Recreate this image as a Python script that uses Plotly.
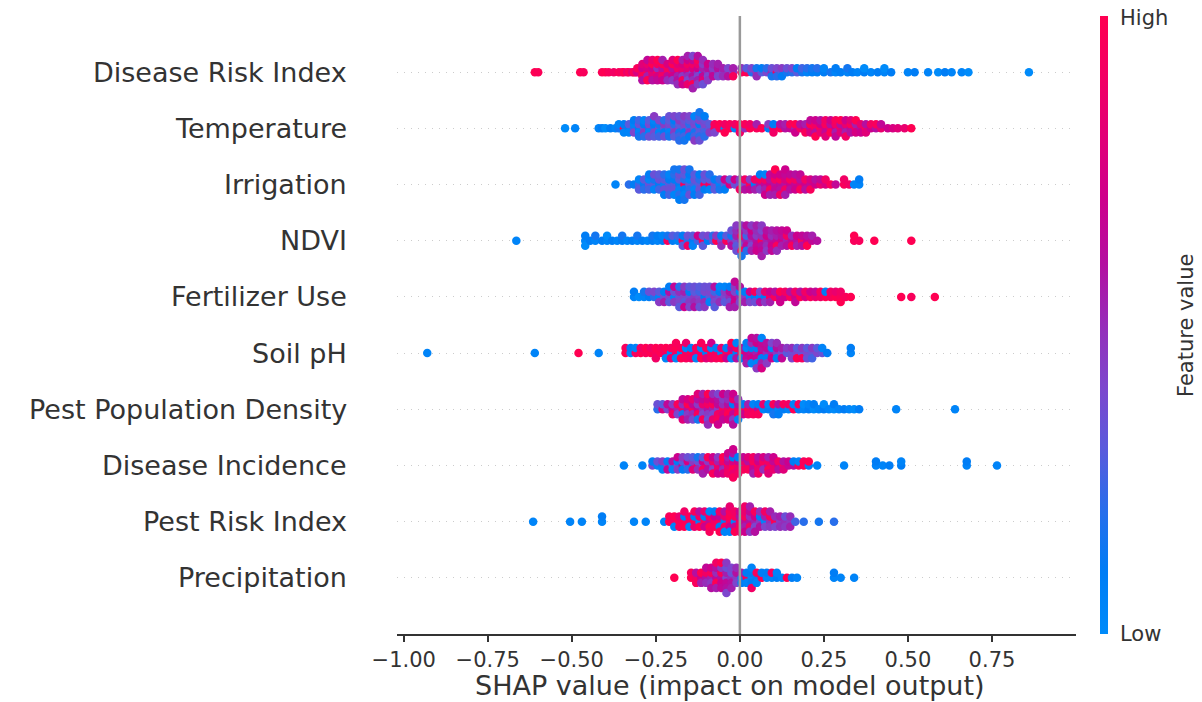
import numpy as np
import plotly.graph_objects as go

features = ["Disease Risk Index", "Temperature", "Irrigation", "NDVI", "Fertilizer Use",
            "Soil pH", "Pest Population Density", "Disease Incidence", "Pest Risk Index", "Precipitation"]

x_ticks = [-1.0, -0.75, -0.5, -0.25, 0.0, 0.25, 0.5, 0.75]

# (SHAP value, [normalised feature values of the samples at that SHAP value])
disease_risk_index = [
    (-0.61, [1.0]), (-0.60, [0.97]), (-0.475, [1.0]), (-0.465, [0.95]),
    (-0.41, [0.98]), (-0.40, [1.0]), (-0.39, [0.95]), (-0.375, [0.9]),
    (-0.36, [0.95]), (-0.35, [0.9]), (-0.345, [1.0]), (-0.335, [0.85]), (-0.33, [0.95]),
    (-0.32, [0.8]), (-0.315, [1.0]), (-0.31, [0.9]), (-0.305, [0.75, 0.95]),
    (-0.29, [0.9, 0.7, 1.0, 0.8, 0.6]),
    (-0.275, [0.95, 0.75, 0.55, 0.85, 1.0, 0.65]),
    (-0.26, [0.9, 0.7, 0.8, 1.0, 0.6, 0.85]),
    (-0.245, [0.95, 0.5, 0.75, 0.9, 0.65, 1.0]),
    (-0.23, [0.8, 0.6, 0.9, 1.0, 0.7, 0.55]),
    (-0.215, [0.85, 0.95, 0.65, 0.75, 0.5]),
    (-0.20, [0.9, 0.6, 0.7, 1.0, 0.45, 0.8]),
    (-0.185, [0.7, 0.9, 0.55, 0.8, 0.6, 1.0, 0.5]),
    (-0.17, [0.65, 0.85, 0.45, 0.75, 0.95, 0.55, 0.7]),
    (-0.155, [0.6, 0.8, 0.5, 0.9, 0.4, 0.7, 0.85, 0.55]),
    (-0.14, [0.45, 0.75, 0.6, 0.9, 0.5, 0.65, 1.0, 0.4, 0.55]),
    (-0.125, [0.5, 0.7, 0.4, 0.85, 0.55, 0.95, 0.45, 0.6]),
    (-0.11, [0.2, 0.55, 0.65, 0.45, 0.8, 0.5, 0.35]),
    (-0.095, [0.5, 0.6, 0.4, 0.7, 0.45]),
    (-0.08, [0.55, 0.45, 0.65, 0.5]), (-0.065, [0.5, 0.6, 0.4, 0.55]),
    (-0.05, [0.45, 0.55, 0.5]), (-0.035, [0.5, 0.4, 0.6]), (-0.02, [0.45, 0.55, 0.95]),
    (0.005, [0.95, 0.5]), (0.02, [1.0, 0.3]), (0.035, [0.2, 0.4]), (0.05, [0.45, 0.15, 0.5]),
    (0.065, [0.3, 0.1]), (0.08, [0.4, 0.2]), (0.095, [0.5, 0.35, 0.15]), (0.11, [0.95, 0.4, 0.2]),
    (0.125, [0.3, 0.45, 0.1]), (0.14, [0.15, 0.35]), (0.155, [0.2, 0.4]), (0.17, [0.3, 0.1]),
    (0.185, [0.15, 0.25]), (0.20, [0.05, 0.2]), (0.215, [0.1, 0.15]), (0.23, [0.1, 0.2]),
    (0.25, [0.1, 0.05]), (0.27, [0.15]), (0.285, [0.05, 0.1]), (0.30, [0.1]), (0.32, [0.05, 0.15]),
    (0.335, [0.1]), (0.35, [0.05]), (0.37, [0.1, 0.0]), (0.39, [0.05]), (0.41, [0.1]),
    (0.43, [0.05, 0.0]), (0.45, [0.1]), (0.50, [0.05]), (0.52, [0.1]), (0.56, [0.05]),
    (0.59, [0.0]), (0.61, [0.1]), (0.63, [0.05]), (0.66, [0.05]), (0.68, [0.0]), (0.86, [0.0]),
]

temperature = [
    (-0.52, [0.0]), (-0.49, [0.05]), (-0.42, [0.05]), (-0.41, [0.1]), (-0.40, [0.0]),
    (-0.385, [0.1]), (-0.37, [0.05]), (-0.36, [0.15, 0.05]),
    (-0.345, [0.95, 0.1, 0.05]), (-0.33, [0.1, 0.3, 0.05]), (-0.315, [0.2, 0.05, 0.4, 0.1]),
    (-0.30, [0.1, 0.35, 0.05, 0.25, 0.15]), (-0.285, [0.3, 0.1, 0.45, 0.05, 0.2]),
    (-0.27, [0.15, 0.4, 0.05, 0.3, 0.35]), (-0.255, [0.2, 0.1, 0.4, 0.05, 0.3, 0.45]),
    (-0.24, [0.35, 0.15, 0.05, 0.4, 0.25]), (-0.225, [0.3, 0.45, 0.1, 0.2, 0.35]),
    (-0.21, [0.25, 0.4, 0.05, 0.3, 0.15, 0.35]), (-0.195, [0.35, 0.2, 0.45, 0.1, 0.3, 0.4]),
    (-0.18, [0.4, 0.3, 0.15, 0.45, 0.25, 0.35, 0.2]), (-0.165, [0.3, 0.4, 0.1, 0.35, 0.25, 0.45, 0.15]),
    (-0.15, [0.35, 0.2, 0.45, 0.3, 0.1, 0.4]), (-0.135, [0.3, 0.4, 0.15, 0.35, 0.25, 0.05, 0.45]),
    (-0.12, [0.35, 0.1, 0.3, 0.4, 0.2, 0.25, 0.35, 0.15]), (-0.105, [0.3, 0.4, 0.25, 0.35, 0.2, 0.1]),
    (-0.09, [0.35, 0.3, 0.45]), (-0.075, [1.0, 0.95, 0.4]), (-0.06, [0.95, 1.0]),
    (-0.045, [0.05, 0.9, 1.0]), (-0.03, [1.0, 0.95]), (-0.015, [0.05, 0.9]), (0.0, [0.95, 1.0, 0.9]),
    (0.015, [0.5, 0.95]), (0.03, [1.0, 0.9]), (0.05, [0.95, 0.55]), (0.065, [1.0]),
    (0.085, [0.1, 0.45]), (0.10, [0.95, 0.1, 0.9]), (0.12, [1.0, 0.6]), (0.135, [0.6, 0.55]),
    (0.15, [0.65, 0.95]), (0.165, [0.55, 1.0, 0.7]), (0.18, [0.9, 0.6]), (0.195, [0.7, 0.55, 0.95]),
    (0.21, [0.6, 1.0, 0.75, 0.65]), (0.225, [0.95, 0.9, 0.6, 0.7, 1.0]), (0.24, [1.0, 0.7, 0.85, 0.6]),
    (0.255, [0.75, 0.95, 0.65, 0.9, 0.8]), (0.27, [0.85, 0.6, 1.0, 0.7]),
    (0.285, [0.7, 0.9, 0.55, 0.95, 0.65]), (0.30, [0.9, 0.6, 0.8, 1.0]),
    (0.315, [0.6, 0.85, 0.55, 0.7, 0.9]), (0.33, [0.65, 0.95, 0.6, 0.8]), (0.345, [0.9, 0.55, 0.75, 1.0]),
    (0.36, [0.6, 0.85, 0.7]), (0.375, [0.95, 0.6, 0.8]), (0.39, [0.7, 0.9]), (0.405, [0.6, 0.95]),
    (0.42, [0.85, 0.65]), (0.44, [0.7]), (0.455, [0.75]), (0.47, [0.8]), (0.49, [0.85]), (0.51, [1.0]),
]

irrigation = [
    (-0.37, [0.05]), (-0.33, [0.2]), (-0.315, [0.1]), (-0.30, [0.25, 0.05, 0.3]),
    (-0.285, [0.1, 0.3, 0.2]), (-0.27, [0.35, 0.05, 0.25, 0.1]), (-0.255, [0.3, 0.15, 0.05, 0.35]),
    (-0.24, [0.1, 0.35, 0.25, 0.3]), (-0.225, [0.05, 0.3, 0.35, 0.2, 0.1]),
    (-0.21, [0.3, 0.1, 0.35, 0.05, 0.25]), (-0.195, [0.3, 0.1, 0.35, 0.2, 0.05, 0.15]),
    (-0.18, [0.1, 0.3, 0.05, 0.35, 0.2, 0.15, 0.1]), (-0.165, [0.95, 0.2, 0.1, 0.3, 0.05, 0.35, 0.15]),
    (-0.15, [0.3, 0.05, 0.2, 0.1, 0.35, 0.15]), (-0.135, [0.25, 0.35, 0.05, 0.3, 0.1]),
    (-0.12, [0.3, 0.2, 0.35, 0.1, 0.25]), (-0.105, [0.95, 0.3, 0.1, 0.35]), (-0.09, [0.9, 0.3, 0.05, 0.2]),
    (-0.075, [0.35, 0.1, 0.3]), (-0.06, [0.05, 0.25, 0.15]), (-0.045, [0.3, 0.7, 0.1]),
    (-0.03, [0.75, 0.3]), (-0.015, [0.35, 0.7]), (0.0, [0.35, 0.45, 0.9]), (0.015, [0.4, 0.9, 0.6]),
    (0.03, [0.95, 0.45, 0.65]), (0.045, [0.1, 0.9, 0.55]), (0.06, [0.6, 0.95, 0.45, 0.1]),
    (0.075, [0.65, 0.9, 0.55, 0.05, 0.7]), (0.09, [0.7, 0.6, 0.95, 0.65, 0.55]),
    (0.105, [0.6, 0.9, 0.65, 0.7, 0.55, 1.0]), (0.12, [0.65, 0.95, 0.6, 0.7, 0.9]),
    (0.135, [0.6, 0.75, 0.9, 0.65, 0.55, 0.7]), (0.15, [0.7, 0.95, 0.6, 0.65]),
    (0.165, [0.65, 0.9, 0.7, 0.6]), (0.18, [0.75, 0.6, 0.95, 0.65]), (0.195, [0.7, 0.9, 0.6]),
    (0.21, [0.65, 0.75, 0.95]), (0.225, [0.7, 0.6]), (0.24, [0.85, 0.65]), (0.255, [0.75, 0.9]),
    (0.27, [0.95]), (0.285, [0.65]), (0.31, [0.95, 0.9]), (0.325, [0.9]), (0.34, [0.05]),
    (0.355, [0.05, 0.1]),
]

ndvi = [
    (-0.665, [0.05]), (-0.46, [0.05, 0.1, 0.0]), (-0.445, [0.1]), (-0.43, [0.05, 0.15]),
    (-0.41, [0.1]), (-0.395, [0.05, 0.0]), (-0.38, [0.1]), (-0.365, [0.05]), (-0.35, [0.1, 0.15]),
    (-0.335, [0.05]), (-0.32, [0.1]), (-0.305, [0.05, 0.15]), (-0.29, [0.1]), (-0.275, [0.05]),
    (-0.26, [0.1, 0.15]), (-0.245, [0.05, 0.1]), (-0.23, [0.1, 0.05]), (-0.215, [0.95, 0.15]),
    (-0.20, [0.1, 0.3]), (-0.185, [0.05, 0.25]), (-0.17, [0.95, 0.1, 0.3]), (-0.155, [0.2, 0.35, 0.9]),
    (-0.14, [0.1, 0.3, 0.05]), (-0.125, [0.25, 0.7]), (-0.11, [0.95, 0.35, 0.3]), (-0.095, [0.1, 0.4]),
    (-0.08, [0.3, 0.2]), (-0.07, [1.0, 0.45]), (-0.055, [0.4, 0.1, 0.5]), (-0.04, [0.95, 0.3]),
    (-0.025, [0.45, 0.15, 0.6, 0.35]), (-0.01, [0.4, 0.55, 0.3, 0.5, 0.35, 0.45]),
    (0.005, [0.5, 0.9, 0.35, 0.6, 1.0, 0.45, 0.15]), (0.02, [0.55, 0.25, 0.65, 0.45, 0.2, 0.6]),
    (0.035, [0.5, 0.6, 0.4, 0.7, 0.55, 0.45]), (0.05, [0.6, 0.45, 0.65, 0.5, 0.7, 0.55]),
    (0.065, [0.95, 0.5, 0.6, 0.4, 0.65, 0.45, 0.55]), (0.08, [0.55, 0.7, 0.5, 0.6, 0.45]),
    (0.095, [0.6, 0.5, 0.7, 0.55, 0.65]), (0.11, [0.65, 0.55, 0.95, 0.6, 0.5]),
    (0.125, [0.7, 0.6, 0.55, 0.65]), (0.14, [0.55, 0.9, 0.6, 0.7]), (0.155, [0.65, 0.5, 0.95]),
    (0.17, [0.6, 0.7, 0.55]), (0.185, [0.95, 0.65, 0.6]), (0.20, [0.7, 0.6, 1.0]),
    (0.215, [0.65, 0.55]), (0.23, [0.6]), (0.34, [0.95, 1.0]), (0.355, [0.95]), (0.40, [1.0]),
    (0.51, [1.0]),
]

fertilizer_use = [
    (-0.315, [0.05, 0.1]), (-0.30, [0.0]), (-0.285, [0.05, 0.15]), (-0.27, [0.1, 0.35]),
    (-0.255, [0.2, 0.4]), (-0.24, [0.05, 0.3, 0.45]), (-0.225, [0.35, 0.1, 0.55]),
    (-0.21, [0.4, 0.6, 0.3, 0.1]), (-0.195, [0.05, 0.35, 0.45, 0.65]), (-0.18, [0.35, 0.5, 0.4, 0.2, 0.3]),
    (-0.165, [0.4, 0.55, 0.3, 0.45, 0.7]), (-0.15, [0.35, 0.1, 0.45, 0.3, 0.4]),
    (-0.135, [0.45, 0.3, 0.5, 0.35, 0.6]), (-0.12, [0.4, 0.25, 0.45, 0.3, 0.35]),
    (-0.105, [0.1, 0.4, 0.5, 0.35, 0.45]), (-0.09, [0.3, 0.4, 0.05, 0.35]),
    (-0.075, [0.45, 0.25, 0.4, 0.6, 0.3]), (-0.06, [0.35, 0.1, 0.5, 0.05]), (-0.045, [0.4, 0.45, 0.3, 0.05]),
    (-0.03, [0.5, 0.6, 0.35, 0.1, 0.55]), (-0.015, [0.65, 0.4, 0.7, 0.45, 0.55, 0.65]),
    (0.0, [0.5, 0.05, 0.4, 0.6]), (0.015, [0.45, 0.1, 0.55]), (0.03, [0.05, 0.7, 0.4]),
    (0.045, [0.1, 0.95, 0.35]), (0.06, [0.05, 0.4, 0.6]), (0.075, [0.1, 0.85, 0.45]),
    (0.09, [0.9, 0.7, 0.55]), (0.105, [0.95, 0.6]), (0.12, [0.65, 1.0, 0.7]), (0.135, [0.7, 0.9]),
    (0.15, [0.95, 0.6]), (0.165, [0.7, 0.9, 0.65]), (0.18, [1.0, 0.6]), (0.195, [0.75, 0.9]),
    (0.21, [0.95, 0.7]), (0.225, [0.85, 0.65]), (0.24, [0.9, 0.95]), (0.255, [1.0, 0.1]),
    (0.27, [0.95, 0.9]), (0.285, [1.0, 0.85]), (0.30, [0.95, 0.9, 1.0]), (0.315, [0.95]),
    (0.33, [1.0]), (0.48, [1.0]), (0.51, [0.95]), (0.58, [1.0]),
]

soil_ph = [
    (-0.93, [0.05]), (-0.61, [0.05]), (-0.48, [1.0]), (-0.42, [0.05]), (-0.34, [1.0, 0.95]),
    (-0.325, [0.05, 0.1]), (-0.31, [0.95, 0.05]), (-0.295, [1.0, 0.9]), (-0.28, [0.95, 1.0]),
    (-0.265, [1.0, 0.9]), (-0.25, [0.95, 1.0, 0.9]), (-0.235, [1.0, 0.95]), (-0.22, [0.9, 1.0, 0.05]),
    (-0.205, [0.05, 0.95, 0.85]), (-0.19, [0.9, 1.0, 0.05, 0.95]), (-0.175, [0.05, 0.95, 1.0]),
    (-0.16, [0.9, 0.05, 0.95, 0.85]), (-0.145, [1.0, 0.1, 0.9]), (-0.13, [0.85, 0.95, 0.05]),
    (-0.115, [0.9, 0.05, 1.0, 0.95]), (-0.10, [0.1, 0.95, 0.8]), (-0.085, [1.0, 0.05, 0.9, 0.7]),
    (-0.07, [0.9, 0.1, 0.95]), (-0.055, [0.05, 0.85, 1.0]), (-0.04, [0.95, 0.1, 0.7]),
    (-0.025, [0.9, 0.65, 0.05, 1.0]), (-0.01, [0.1, 0.95, 0.6, 0.05]), (0.005, [0.95, 0.6, 0.1]),
    (0.02, [0.7, 0.05, 0.65, 0.1, 0.55]), (0.035, [0.6, 0.1, 0.7, 0.5, 0.05, 0.65]),
    (0.05, [0.55, 0.1, 0.65, 0.7, 0.05, 0.6, 0.45]), (0.065, [0.7, 0.6, 0.1, 0.65, 0.55, 0.05, 0.75]),
    (0.08, [0.5, 0.65, 0.1, 0.6, 0.45]), (0.095, [0.55, 0.05, 0.7, 0.4]), (0.11, [0.45, 0.6, 0.1, 0.5]),
    (0.125, [0.4, 0.55, 0.65]), (0.14, [0.3, 0.45]), (0.155, [0.35, 0.5, 0.4]), (0.17, [0.4, 0.3, 1.0]),
    (0.185, [0.35, 0.45, 0.95]), (0.20, [0.4, 0.3, 0.35]), (0.215, [0.35, 0.45, 0.25]),
    (0.23, [0.4, 0.3]), (0.245, [0.35, 0.05]), (0.26, [0.1]), (0.33, [0.05, 0.1]),
]

pest_population_density = [
    (-0.245, [0.2, 0.35]), (-0.23, [0.75, 0.3]), (-0.215, [0.4, 0.65]), (-0.20, [0.7, 0.45, 0.9]),
    (-0.185, [0.55, 0.95, 0.4]), (-0.17, [0.9, 0.5, 0.15, 0.65, 0.8]), (-0.155, [0.6, 1.0, 0.45, 0.75, 0.55]),
    (-0.14, [0.95, 0.65, 0.5, 0.85, 0.4]), (-0.125, [0.7, 0.45, 0.95, 0.6, 0.15, 0.8]),
    (-0.11, [0.5, 0.85, 0.4, 0.65, 0.95, 0.55]), (-0.095, [0.6, 0.9, 0.45, 0.75, 0.35, 1.0, 0.5]),
    (-0.08, [0.55, 0.95, 0.4, 0.7, 0.85, 0.5]), (-0.065, [0.45, 0.65, 0.9, 0.6, 0.95, 0.4, 0.7]),
    (-0.05, [0.95, 0.5, 0.8, 0.45, 0.65, 0.7]), (-0.035, [0.9, 0.6, 1.0, 0.5, 0.75, 0.55]),
    (-0.02, [0.95, 0.1, 0.65, 0.85, 0.45, 0.7, 0.6]), (-0.005, [0.9, 0.6, 0.95, 0.5, 0.05]),
    (0.01, [0.95, 0.1, 0.7]), (0.025, [1.0, 0.55, 0.9]), (0.04, [0.85, 0.05, 0.95]),
    (0.055, [0.65, 0.1, 0.95]), (0.07, [0.05, 0.85]), (0.085, [0.1, 0.05]), (0.10, [0.1, 0.95, 0.15]),
    (0.115, [0.05, 0.6, 0.1]), (0.13, [0.1, 0.95]), (0.145, [0.05, 0.9]), (0.16, [1.0, 0.05]),
    (0.175, [0.1, 0.95]), (0.19, [0.05, 0.0]), (0.205, [0.1, 0.05]), (0.22, [0.0, 0.1]), (0.235, [0.05]),
    (0.25, [0.1, 0.0]), (0.265, [0.05]), (0.28, [0.0, 0.1]), (0.295, [0.05]), (0.31, [0.1]),
    (0.325, [0.05]), (0.34, [0.0]), (0.355, [0.1]), (0.465, [0.05]), (0.64, [0.05]),
]

disease_incidence = [
    (-0.345, [0.05]), (-0.29, [0.05]), (-0.26, [0.4, 0.1]), (-0.245, [0.05, 0.35]),
    (-0.23, [0.1, 0.45, 0.05]), (-0.215, [0.4, 0.1, 0.65]), (-0.20, [0.3, 0.6, 0.05]),
    (-0.185, [0.35, 0.1, 0.45, 0.7]), (-0.17, [0.65, 0.3, 0.1, 0.45]), (-0.155, [0.4, 0.75, 0.2, 0.35]),
    (-0.14, [0.1, 0.45, 0.8, 0.3]), (-0.125, [0.9, 0.35, 0.5, 0.15]), (-0.11, [0.4, 0.7, 0.95, 0.3, 0.55]),
    (-0.095, [0.85, 0.45, 0.6, 0.95]), (-0.08, [0.5, 0.9, 0.4, 0.7, 0.95]),
    (-0.065, [0.95, 0.55, 0.85, 0.45, 0.7]), (-0.05, [0.6, 0.9, 0.5, 1.0, 0.75]),
    (-0.035, [0.95, 0.65, 0.85, 0.55, 0.9, 0.7]), (-0.02, [0.9, 0.75, 1.0, 0.1, 0.85, 0.6, 0.95, 0.7]),
    (-0.005, [0.95, 0.7, 0.85, 0.1, 0.9]), (0.01, [0.05, 0.85, 0.95, 0.65]), (0.025, [0.9, 0.6, 0.95, 0.8]),
    (0.04, [0.75, 0.95, 0.65, 0.9, 0.55]), (0.055, [1.0, 0.7, 0.85, 0.6, 0.9]),
    (0.07, [0.85, 0.95, 0.5, 0.75]), (0.085, [0.6, 0.9, 1.0, 0.55, 0.8]), (0.10, [0.95, 0.65, 0.85, 0.7]),
    (0.115, [0.7, 0.9, 0.6]), (0.13, [0.95, 0.6, 0.8]), (0.145, [0.65, 0.7]), (0.16, [0.6, 0.1]),
    (0.175, [0.95, 0.05]), (0.19, [1.0, 0.95]), (0.205, [0.1, 1.0]), (0.23, [0.05]), (0.31, [0.05]),
    (0.405, [0.05, 0.1]), (0.425, [0.05]), (0.445, [0.1]), (0.48, [0.1, 0.05]), (0.675, [0.05, 0.1]),
    (0.765, [0.05]),
]

pest_risk_index = [
    (-0.615, [0.05]), (-0.505, [0.05]), (-0.47, [0.05]), (-0.41, [0.05, 0.1]), (-0.315, [0.05]),
    (-0.28, [0.05]), (-0.225, [0.05]), (-0.21, [1.0, 0.95]), (-0.195, [0.9, 1.0, 0.05]),
    (-0.18, [1.0, 0.85, 0.95]), (-0.165, [0.95, 0.1, 1.0, 0.9]), (-0.15, [0.9, 0.95, 0.05]),
    (-0.135, [1.0, 0.1, 0.85, 0.95]), (-0.12, [0.05, 0.9, 1.0, 0.6]), (-0.105, [0.95, 0.1, 0.7, 0.85]),
    (-0.09, [0.65, 0.9, 1.0, 0.05, 0.95]), (-0.075, [0.9, 0.7, 0.95, 0.1]),
    (-0.06, [0.95, 0.65, 0.1, 0.9, 1.0]), (-0.045, [0.1, 0.85, 0.95, 0.6, 0.05]),
    (-0.03, [0.9, 1.0, 0.7, 0.95, 0.05, 0.85]), (-0.015, [0.05, 0.95, 0.65, 0.9, 1.0]),
    (0.0, [0.85, 0.6, 0.95, 0.7, 0.9]), (0.015, [0.65, 0.95, 0.55, 0.85, 0.7, 0.9]),
    (0.03, [0.6, 0.5, 0.9, 0.65, 0.45, 0.55]), (0.045, [0.55, 0.7, 0.4, 0.95, 0.6]),
    (0.06, [0.45, 0.1, 0.6, 0.5]), (0.075, [0.05, 0.55, 0.4, 0.9]), (0.09, [0.5, 0.95, 0.45, 0.55]),
    (0.105, [1.0, 0.5, 0.4]), (0.12, [0.45, 0.55, 0.5]), (0.135, [0.5, 0.35, 0.45]),
    (0.15, [0.45, 0.5, 0.55]), (0.165, [0.25]), (0.19, [0.2]), (0.235, [0.15]), (0.28, [0.2]),
]

precipitation = [
    (-0.195, [1.0]), (-0.145, [1.0, 0.95]), (-0.13, [0.9, 0.6, 0.95]), (-0.115, [0.7, 1.0, 0.55]),
    (-0.10, [0.6, 0.9, 0.5, 0.65]), (-0.085, [0.55, 0.95, 0.45, 0.7, 0.6]),
    (-0.07, [0.65, 0.5, 1.0, 0.6, 0.55, 0.9]), (-0.055, [0.6, 0.95, 0.7, 0.45, 0.65, 1.0]),
    (-0.04, [0.4, 0.55, 0.65, 0.35, 0.6, 0.45, 0.4]), (-0.025, [0.5, 0.35, 0.6, 0.4, 0.55]),
    (-0.01, [0.45, 0.6, 0.4, 0.5]), (0.005, [0.05, 0.55, 0.1]), (0.02, [0.95, 0.1, 0.05]),
    (0.035, [0.05, 0.1, 0.1, 0.05, 0.9]), (0.05, [0.1, 0.95, 0.05]), (0.065, [1.0, 0.1]),
    (0.08, [0.05, 0.1]), (0.095, [0.05, 0.95]), (0.11, [0.1, 0.05]), (0.125, [0.05]), (0.14, [1.0]),
    (0.155, [0.1]), (0.17, [0.05]), (0.28, [0.05, 0.1]), (0.30, [0.05]), (0.34, [0.05]),
]

rows = [disease_risk_index, temperature, irrigation, ndvi, fertilizer_use, soil_ph,
        pest_population_density, disease_incidence, pest_risk_index, precipitation]

red_blue = [
    [0.0, "rgb(0,139,250)"], [0.1, "rgb(0,125,245)"], [0.2, "rgb(40,110,235)"],
    [0.3, "rgb(90,90,220)"], [0.4, "rgb(125,70,205)"], [0.5, "rgb(150,45,185)"],
    [0.6, "rgb(180,15,160)"], [0.7, "rgb(205,0,140)"], [0.8, "rgb(225,0,120)"],
    [0.9, "rgb(242,0,100)"], [1.0, "rgb(255,0,82)"],
]

# beeswarm layout (same stacking rule as shap's summary plot)
n = len(features)
xs, ys, cs = [], [], []
for i, groups in enumerate(rows):
    pos = n - 1 - i
    offs = []
    for sv, vals in groups:
        for layer, v in enumerate(vals):
            offs.append(np.ceil(layer / 2) * ((layer % 2) * 2 - 1))
            xs.append(sv)
            cs.append(v)
    offs = np.array(offs, dtype=float)
    offs *= 0.9 * (0.4 / np.max(offs + 1))
    ys.extend(list(pos + offs))

fig = go.Figure()
fig.add_trace(go.Scatter(
    x=xs, y=ys, mode="markers",
    marker=dict(size=8.5, color=cs, colorscale=red_blue, cmin=0, cmax=1, opacity=1,
                line=dict(width=0),
                colorbar=dict(thickness=8, len=1, lenmode="fraction", y=0.5, yanchor="middle",
                              x=1.0353, xanchor="left", xpad=0, ypad=0, outlinewidth=0,
                              showticklabels=False, ticks="")),
    hoverinfo="skip", showlegend=False,
))

font_family = "DejaVu Sans"
text_color = "#333333"

fig.update_layout(
    width=1202, height=702,
    margin=dict(l=397, r=126, t=16, b=68),
    paper_bgcolor="white", plot_bgcolor="white",
    font=dict(family=font_family, color=text_color),
    showlegend=False,
)
fig.update_xaxes(
    range=[-1.02, 1.0], tickvals=x_ticks,
    ticktext=[f"{v:.2f}".replace("-", "\u2212") for v in x_ticks],
    ticks="outside", ticklen=6, tickwidth=1.5, tickcolor=text_color,
    showline=True, linecolor=text_color, linewidth=1.5,
    showgrid=False, zeroline=False, tickfont=dict(size=21, color=text_color),
)
fig.update_yaxes(
    range=[-1, n], tickvals=list(range(n)), showticklabels=False, ticks="",
    showgrid=True, gridcolor="#cccccc", gridwidth=1, griddash="1px,6px",
    zeroline=False, showline=False,
)

fig.add_shape(type="line", x0=0, x1=0, xref="x", y0=0, y1=1, yref="paper",
              line=dict(color="#999999", width=2.5), layer="above")

for i, name in enumerate(features):
    fig.add_annotation(text=name, x=-0.071, xref="paper", y=n - 1 - i, yref="y",
                       xanchor="right", yanchor="middle", showarrow=False,
                       font=dict(size=27, family=font_family, color=text_color))

fig.add_annotation(text="SHAP value (impact on model output)", x=0.49, xref="paper",
                   y=-0.0841, yref="paper", xanchor="center", yanchor="middle", showarrow=False,
                   font=dict(size=27, family=font_family, color=text_color))
fig.add_annotation(text="High", x=1.0619, xref="paper", y=0.9968, yref="paper",
                   xanchor="left", yanchor="middle", showarrow=False,
                   font=dict(size=21, family=font_family, color=text_color))
fig.add_annotation(text="Low", x=1.0619, xref="paper", y=0.0, yref="paper",
                   xanchor="left", yanchor="middle", showarrow=False,
                   font=dict(size=21, family=font_family, color=text_color))
fig.add_annotation(text="Feature value", x=1.162, xref="paper", y=0.5, yref="paper",
                   xanchor="center", yanchor="middle", textangle=-90, showarrow=False,
                   font=dict(size=21, family=font_family, color=text_color))

fig.write_html("out.html")
